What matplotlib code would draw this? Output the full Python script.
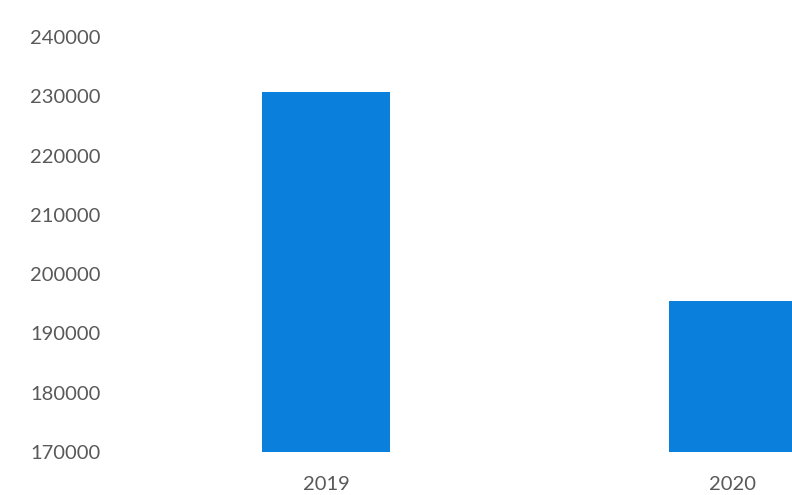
import matplotlib
matplotlib.use("Agg")
import matplotlib.pyplot as plt

years = ["2019", "2020"]
values = [230700, 195500]
y_ticks = [170000, 180000, 190000, 200000, 210000, 220000, 230000, 240000]

plt.rcParams['font.family'] = ['Lato', 'DejaVu Sans']

fig = plt.figure(figsize=(7.92, 4.95), dpi=100)
ax = fig.add_axes([0.1547, 0.0869, 1 - 0.1547, 0.9253 - 0.0869])

x = list(range(len(years)))
ax.bar(x, [v - y_ticks[0] for v in values], bottom=y_ticks[0], width=0.315,
       color="#0A7FDB", edgecolor="none")

ax.set_xlim(-0.5, 1.145)
ax.set_ylim(y_ticks[0], y_ticks[-1])
ax.set_yticks(y_ticks)
ax.set_yticklabels([str(t) for t in y_ticks])
ax.set_xticks(x)
ax.set_xticklabels(years)

for s in ax.spines.values():
    s.set_visible(False)
ax.tick_params(axis='y', length=0, pad=16, labelsize=14.5, labelcolor="#595959")
ax.tick_params(axis='x', length=0, pad=17, labelsize=14.5, labelcolor="#595959")

fig.savefig("out.png", dpi=100, facecolor="white")
